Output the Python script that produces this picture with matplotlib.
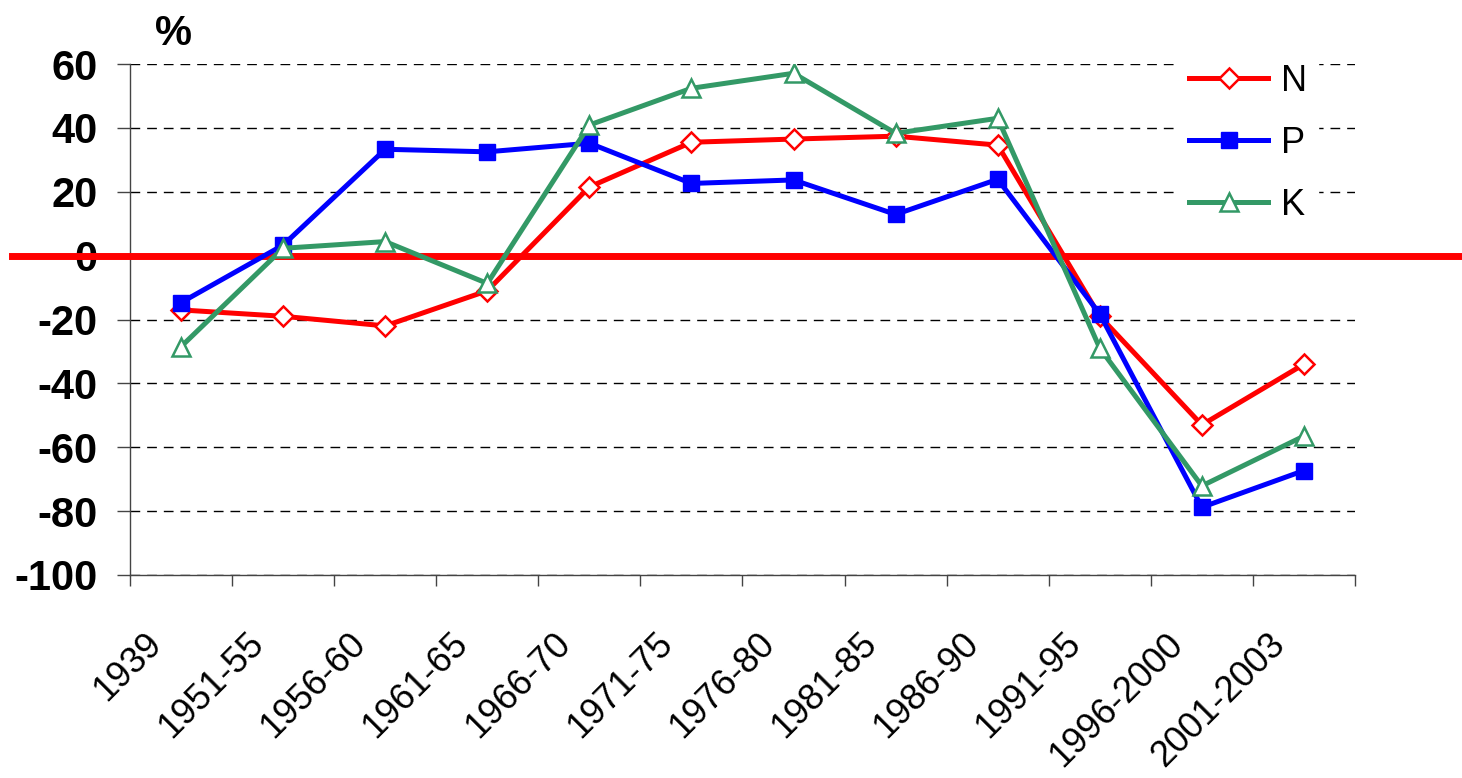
import matplotlib
matplotlib.use("Agg")
import matplotlib.pyplot as plt
from matplotlib.ticker import FixedLocator, NullFormatter
from matplotlib.transforms import ScaledTranslation

# ---- data ----
periods = ["1939", "1951-55", "1956-60", "1961-65", "1966-70", "1971-75",
           "1976-80", "1981-85", "1986-90", "1991-95", "1996-2000", "2001-2003"]
n_vals = [-17, -19, -22, -11, 21.5, 35.5, 36.5, 37.4, 34.6, -19, -53, -34]
p_vals = [-14.7, 3.3, 33.3, 32.5, 35.2, 22.6, 23.7, 12.9, 23.9, -18.3, -78.8, -67.3]
k_vals = [-28.5, 2.3, 4.4, -8.7, 40.9, 52.4, 57.1, 38.3, 43.0, -29, -72.1, -56.5]
y_ticks = [-100, -80, -60, -40, -20, 0, 20, 40, 60]

RED, BLUE, GREEN = "#FF0000", "#0000FF", "#339966"
FONT = ["Liberation Sans", "DejaVu Sans"]
AXIS_GREY = "#444444"

fig = plt.figure(figsize=(14.62, 7.78), dpi=100)
ax = fig.add_axes([130 / 1462, 1 - 575 / 778, 1225 / 1462, (575 - 64) / 778])

x = list(range(len(periods)))
ax.plot(x, n_vals, color=RED, lw=3.6, marker="D", ms=10, mfc="white",
        mec=RED, mew=1.8, label="N", zorder=4)
ax.plot(x, p_vals, color=BLUE, lw=3.6, marker="s", ms=11.5, mfc=BLUE,
        mec=BLUE, label="P", zorder=5)
ax.plot(x, k_vals, color=GREEN, lw=3.6, marker="^", ms=12.5, mfc="white",
        mec=GREEN, mew=1.8, label="K", zorder=6)

# thick zero line running past the plot area
ax.axhline(0, xmin=-118 / 1225, xmax=1.1, color=RED, lw=5, clip_on=False, zorder=3)

ax.set_xlim(-0.5, len(periods) - 0.5)
ax.set_ylim(-100, 60)

ax.set_yticks(y_ticks)
ax.set_yticklabels([str(v) for v in y_ticks], fontsize=30, fontweight="bold",
                   family=FONT)
ax.yaxis.grid(True, ls=(0, (7, 5)), color="black", lw=1)
ax.tick_params(axis="y", length=9.4, width=1, pad=14, color=AXIS_GREY)

# category labels at centres, tick marks at boundaries
ax.set_xticks(x)
ax.set_xticklabels(periods, rotation=45, ha="right", va="top", fontsize=26,
                   family=FONT)
ax.tick_params(axis="x", which="major", length=0, pad=37)
shift = ScaledTranslation(-0.12, 0, fig.dpi_scale_trans)
for lbl in ax.get_xticklabels():
    lbl.set_transform(lbl.get_transform() + shift)
ax.xaxis.set_minor_locator(FixedLocator([i - 0.5 for i in range(len(periods) + 1)]))
ax.xaxis.set_minor_formatter(NullFormatter())
ax.tick_params(axis="x", which="minor", length=8, width=1, color=AXIS_GREY)

for side in ["top", "right"]:
    ax.spines[side].set_visible(False)
for side in ["left", "bottom"]:
    ax.spines[side].set_color(AXIS_GREY)
    ax.spines[side].set_linewidth(1)
ax.set_axisbelow(True)

fig.text(174 / 1462, 1 - 34 / 778, "%", fontsize=30, fontweight="bold",
         family=FONT, ha="center", va="center")

leg = ax.legend(loc="upper left", bbox_to_anchor=(1160 / 1462, 1 - 35 / 778),
                bbox_transform=fig.transFigure, frameon=True, fancybox=False,
                edgecolor="white", facecolor="white", framealpha=1,
                prop={"family": FONT, "size": 26}, handlelength=2.2,
                labelspacing=0.75, handletextpad=0.35, borderpad=0.3)
leg.set_zorder(10)

fig.savefig("out.png", dpi=100, facecolor="white")
